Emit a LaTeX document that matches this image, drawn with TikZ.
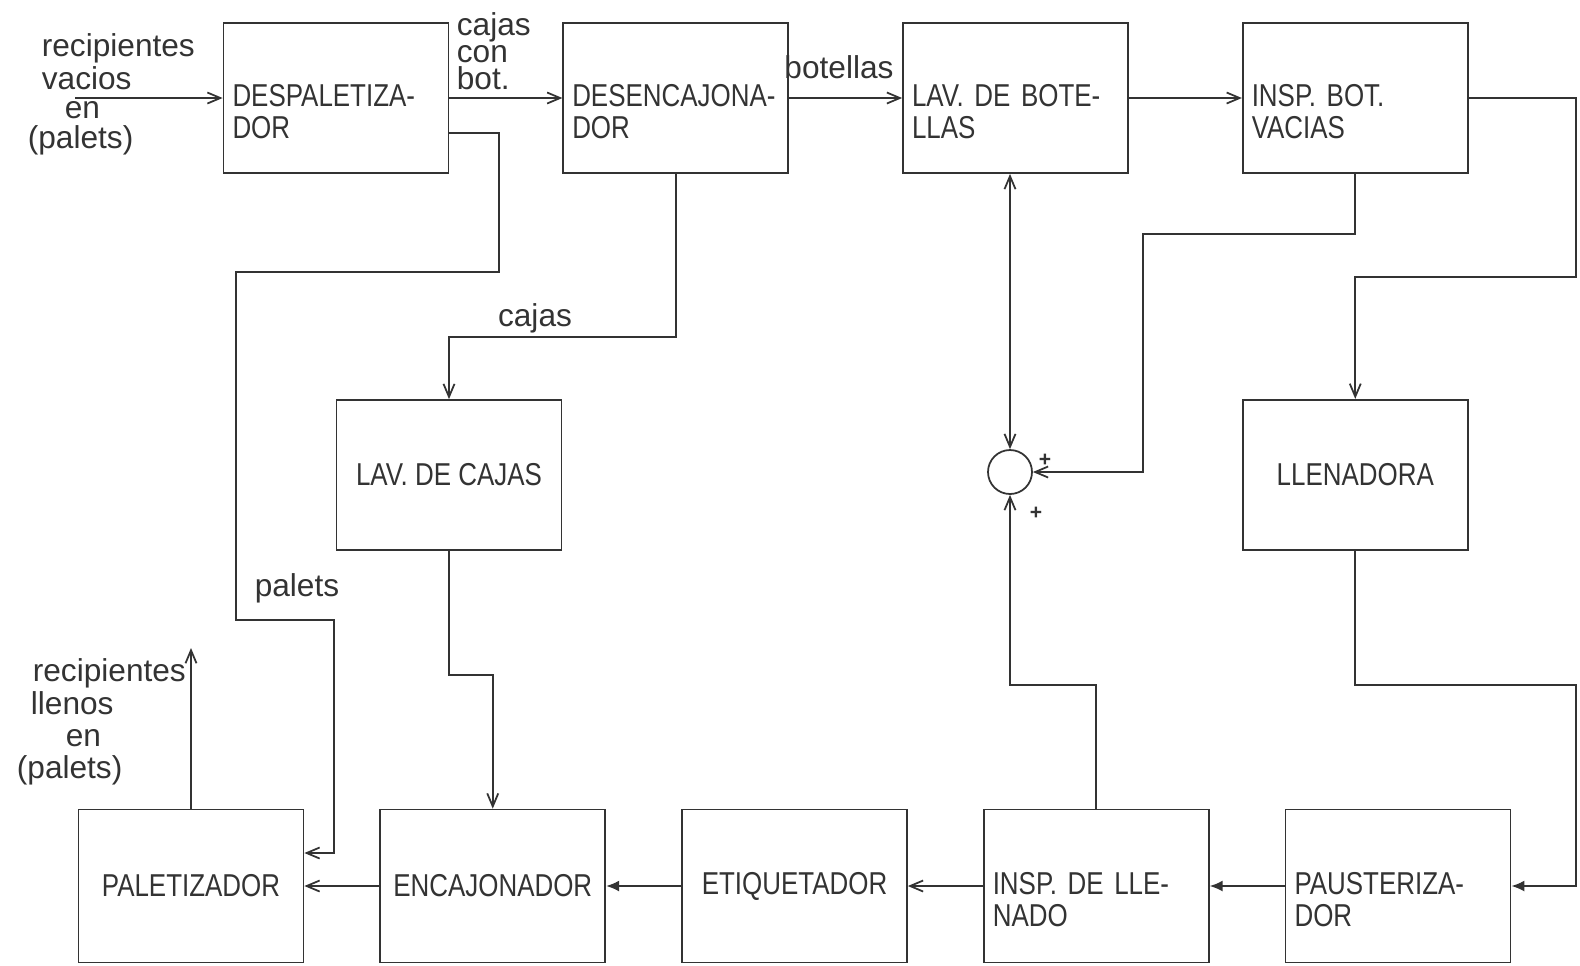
\documentclass[tikz,border=0pt]{standalone}
\usepackage{fontspec}
\setmainfont{Liberation Sans}
\newfontfamily\boxfont[FakeStretch=0.82]{Liberation Sans}
\usetikzlibrary{arrows.meta, positioning, calc}

\begin{document}
\begin{tikzpicture}[x=0.1mm, y=-0.1mm, node distance=11.3mm and 11.3mm, line width=0.5pt, color=black!80,
  box/.style={draw, minimum width=22.5mm, minimum height=15mm, inner xsep=0.9mm, inner ysep=0pt, font=\boxfont\fontsize{9}{9.2}\selectfont, align=center},
  twoline/.style={box, align=left, text width=20.7mm, execute at begin node={\rule{0pt}{4.9mm}}},
  lowbox/.style={minimum height=15.3mm},
  lbl/.style={font=\fontsize{9}{8.3}\selectfont, inner sep=0pt},
  sign/.style={font=\fontsize{6}{6}\selectfont\bfseries, inner sep=0pt},
  >={Straight Barb[length=1.3mm, width=1.1mm]},
  fil/.style={-{Latex[length=1.3mm, width=1.1mm]}}]
\useasboundingbox (0,0) rectangle (1580,965);

% top row
\node[twoline] (desp) at (336,98) {DESPALETIZA-\\DOR};
\node[twoline, right=of desp] (desen) {DESENCAJONA-\\DOR};
\node[twoline, right=of desen] (lavb) {LAV. DE BOTE-\\LLAS};
\node[twoline, right=of lavb] (inspb) {INSP. BOT.\\VACIAS};
% middle
\node[box] (lavc) at (449,475) {LAV. DE CAJAS};
\node[box, below=22.5mm of inspb] (llen) {LLENADORA};
\node[circle, draw, minimum size=4.4mm, inner sep=0pt] (sum) at (1010,472) {};
\node[sign] (p1) at (1045,460) {+};
\node[sign] (p2) at (1036,513) {+};
% bottom row
\node[box, lowbox] (palet) at (191,886) {PALETIZADOR};
\node[box, lowbox, right=7.5mm of palet] (enc) {ENCAJONADOR};
\node[box, lowbox, right=7.5mm of enc] (etiq) {ETIQUETADOR};
\node[twoline, lowbox, right=7.5mm of etiq] (inspl) {INSP. DE LLE-\\NADO};
\node[twoline, lowbox, right=7.5mm of inspl] (paust) {PAUSTERIZA-\\DOR};

% labels
\node[lbl, anchor=north west, align=left] (invacios) at (27,33) {\hspace*{1.4mm}recipientes\\\hspace*{1.4mm}vacios\\\hspace*{3.7mm}en\\(palets)};
\node[lbl, anchor=north west, align=left, font=\fontsize{9}{7.6}\selectfont] (cajabot) at (456,12) {cajas\\con\\bot.};
\node[lbl] (botl) at (839,67) {botellas};
\node[lbl] (cajl) at (535,318) {cajas};
\node[lbl] (pall) at (297,588) {palets};
\node[lbl, anchor=north west, align=left, font=\fontsize{9}{9.2}\selectfont] (inllenos) at (16,658) {\hspace*{1.6mm}recipientes\\\hspace*{1.4mm}llenos\\\hspace*{4.9mm}en\\(palets)};

\coordinate (inpt) at (75,98);
\coordinate (outll) at (191,648);
\coordinate (jl) at (1010,685);
\coordinate (pl) at (334,853);

% connectors
\draw[->] (inpt) -- (desp);
\draw[->] (desp) -- (desen);
\draw[->] (desen) -- (lavb);
\draw[->] (lavb) -- (inspb);
\draw[->] (inspb.east) -| (1576,277) -| (llen.north);
\draw[fil] (llen.south) |- (1576,685) |- (paust.east);
\draw[->] (inspb.south) |- (1143,234) |- (sum.east);
\draw[<->] (sum.north) -- (sum.north |- lavb.south);
\draw[->] (inspl.north) |- (jl) -- (sum.south);
\draw[->] ($(desp.east)+(0,35)$) -| (499,272) -| (236,620) -| (pl) -- (pl -| palet.east);
\draw[->] (desen.south) |- (449,337) -- (lavc.north);
\draw[->] (lavc.south) |- ($(enc.north)+(0,-134)$) -- (enc.north);
\draw[fil] (paust) -- (inspl);
\draw[->] (inspl) -- (etiq);
\draw[fil] (etiq) -- (enc);
\draw[->] (enc) -- (palet);
\draw[->] (palet.north) -- (outll);
\end{tikzpicture}
\end{document}
